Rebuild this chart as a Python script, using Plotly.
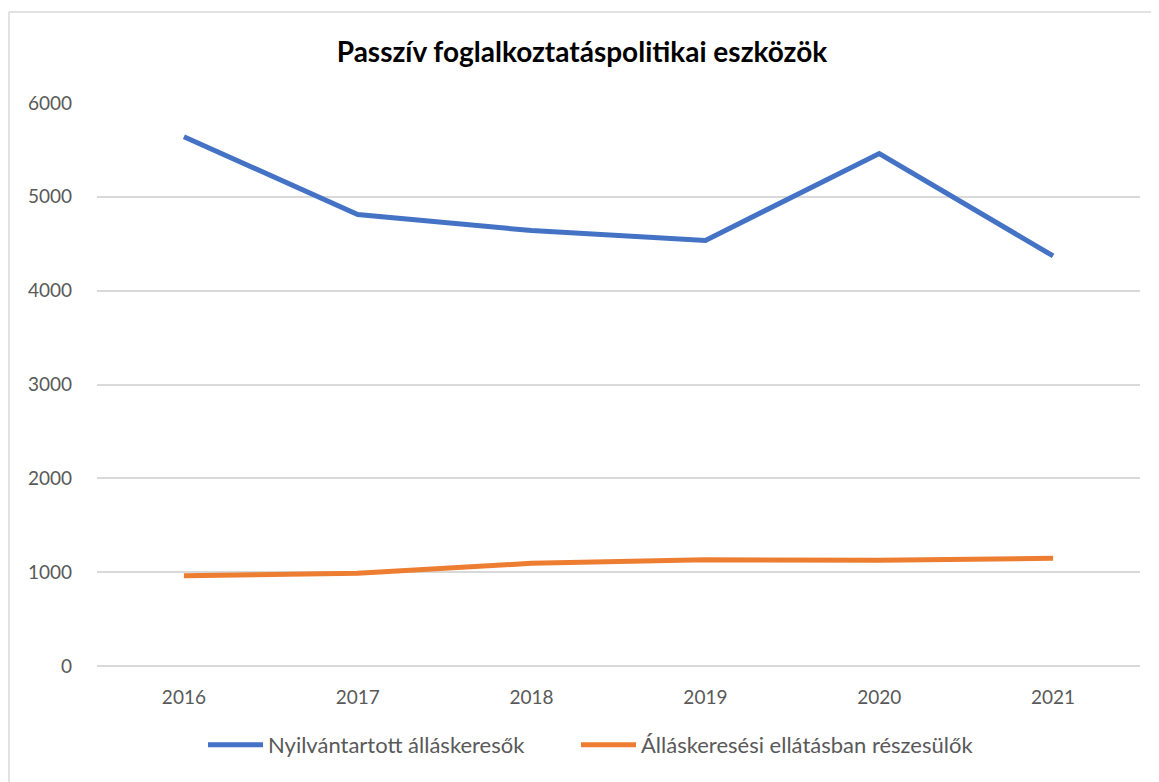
import plotly.graph_objects as pgo

years = ['2016', '2017', '2018', '2019', '2020', '2021']
nyilvantartott = [5640, 4812, 4640, 4535, 5462, 4370]
ellatas = [962, 988, 1094, 1132, 1128, 1148]

blue = '#4472C4'
orange = '#ED7D31'
fnt = 'Lato, Calibri, sans-serif'

fig = pgo.Figure()
fig.add_trace(pgo.Scatter(x=years, y=nyilvantartott, mode='lines', name='Nyilvántartott álláskeresők',
                          line=dict(color=blue, width=5), legend='legend'))
fig.add_trace(pgo.Scatter(x=years, y=ellatas, mode='lines', name='Álláskeresési ellátásban részesülők',
                          line=dict(color=orange, width=5), legend='legend2'))

leg = dict(orientation='h', xanchor='left', yref='container', y=1 - 737 / 782, yanchor='middle',
           font=dict(size=22, color='#595959'), itemwidth=55)

# page has an 8px body margin, so everything is shifted up/left by 8
fig.update_layout(
    width=1159, height=782,
    margin=dict(l=89, r=27, t=95, b=124, autoexpand=False),
    paper_bgcolor='white', plot_bgcolor='white',
    font=dict(family=fnt, size=19, color='#595959'),
    title=dict(text='<b>Passzív foglalkoztatáspolitikai eszközök</b>', x=574 / 1159, xanchor='center',
               y=1 - 44 / 782, yanchor='middle', font=dict(size=28, color='black', family=fnt)),
    showlegend=True,
    legend=dict(leg, x=(195 - 89) / 1043),
    legend2=dict(leg, x=(568 - 89) / 1043),
    xaxis=dict(type='category', range=[-0.5, 5.5], showgrid=False, showline=False, ticks='',
               ticklabelstandoff=18, tickfont=dict(size=19, color='#595959')),
    yaxis=dict(range=[0, 6000], dtick=1000, showgrid=True, gridcolor='#D9D9D9', gridwidth=1.5,
               zeroline=True, zerolinecolor='#D9D9D9', zerolinewidth=1.5, showline=False,
               ticks='', ticklabelstandoff=24, tickfont=dict(size=19, color='#595959')),
)

# chart area border (light gray)
fig.add_shape(type='line', xref='paper', yref='paper', x0=-0.0844, x1=1.1, y0=1.1616, y1=1.1616,
              line=dict(color='#D9D9D9', width=1.5))
fig.add_shape(type='line', xref='paper', yref='paper', x0=-0.0844, x1=-0.0844, y0=-0.3, y1=1.1616,
              line=dict(color='#D9D9D9', width=1.5))

fig.write_html("out.html")
